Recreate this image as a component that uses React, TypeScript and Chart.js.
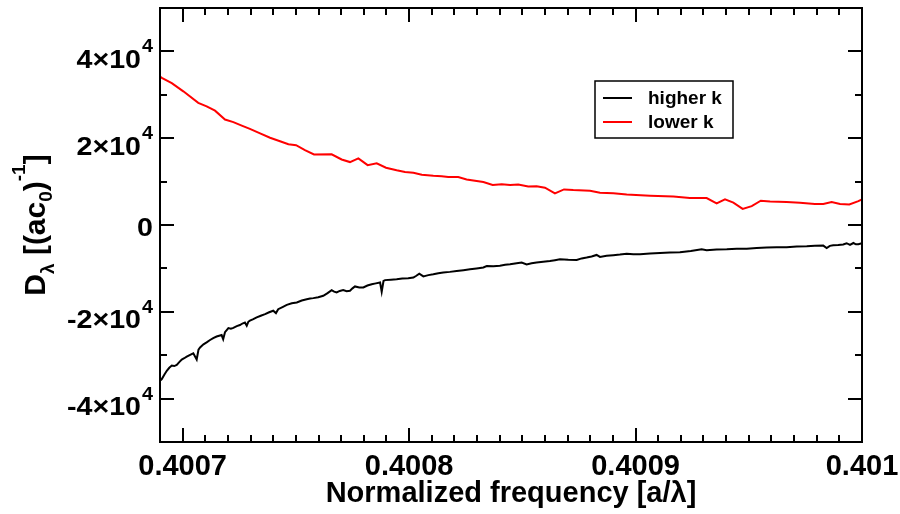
import React, { useEffect, useRef } from "react";
import { Chart, registerables } from "chart.js";

Chart.register(...registerables);

// ---------- data ----------
const seriesLabels = ["higher k", "lower k"];

const higherKFreq = [
  0.40069, 0.4006908, 0.4006919, 0.400693, 0.4006941, 0.4006952, 0.4006963, 0.4006974, 0.4006985, 0.4006996,
  0.4007007, 0.4007018, 0.4007033, 0.4007047, 0.4007062, 0.400707, 0.4007077, 0.4007092, 0.4007106, 0.4007121,
  0.4007135, 0.400715, 0.4007165, 0.4007172, 0.4007179, 0.4007187, 0.4007202, 0.4007213, 0.4007224, 0.4007239,
  0.4007253, 0.4007264, 0.4007275, 0.4007283, 0.400729, 0.4007297, 0.4007312, 0.4007327, 0.4007345, 0.4007364,
  0.4007382, 0.40074, 0.4007412, 0.4007422, 0.4007441, 0.400746, 0.4007482, 0.4007504, 0.4007526, 0.4007548,
  0.4007563, 0.4007577, 0.4007599, 0.4007621, 0.400764, 0.4007658, 0.4007669, 0.400768, 0.4007694, 0.4007709,
  0.4007724, 0.4007739, 0.400775, 0.4007761, 0.400778, 0.4007798, 0.4007816, 0.4007835, 0.4007853, 0.4007872,
  0.4007879, 0.4007887, 0.4007894, 0.400792, 0.4007945, 0.400797, 0.4007996, 0.4008019, 0.4008032, 0.4008045,
  0.4008063, 0.4008085, 0.4008107, 0.4008129, 0.4008151, 0.400818, 0.400821, 0.400824, 0.4008269, 0.4008298,
  0.4008328, 0.4008343, 0.4008372, 0.4008401, 0.4008424, 0.4008446, 0.4008475, 0.4008497, 0.4008519, 0.4008541,
  0.4008563, 0.4008592, 0.4008622, 0.4008644, 0.4008666, 0.4008703, 0.400874, 0.4008762, 0.4008784, 0.4008806,
  0.4008828, 0.4008843, 0.4008872, 0.4008902, 0.4008931, 0.4008961, 0.400899, 0.400902, 0.4009064, 0.4009108,
  0.4009152, 0.4009196, 0.4009244, 0.4009292, 0.4009314, 0.4009358, 0.4009403, 0.4009447, 0.4009491, 0.4009535,
  0.4009579, 0.4009623, 0.4009667, 0.4009712, 0.4009756, 0.4009792, 0.4009829, 0.4009844, 0.4009858, 0.4009873,
  0.4009895, 0.4009917, 0.4009932, 0.4009947, 0.4009962, 0.4009973, 0.4009984, 0.401,
];
const higherKValues = [
  -35900, -35500, -34500, -33600, -32900, -32400, -32500, -32250, -31600, -31000,
  -30700, -30350, -29900, -29550, -31000, -28700, -28200, -27500, -27050, -26500,
  -26050, -25700, -25450, -25350, -26300, -24700, -23750, -23900, -23700, -23300,
  -23050, -22700, -22450, -23200, -22300, -22050, -21700, -21300, -20900, -20550,
  -20100, -19750, -20300, -19400, -18900, -18400, -18050, -17850, -17400, -17100,
  -16950, -16850, -16650, -16300, -15700, -15000, -15350, -15550, -15200, -15000,
  -15250, -15150, -14600, -14150, -14400, -14400, -13950, -13650, -13450, -13250,
  -15400, -12900, -12700, -12600, -12500, -12350, -12250, -12100, -11700, -11200,
  -11850, -11550, -11350, -11100, -10950, -10800, -10600, -10400, -10200, -10000,
  -9800, -9450, -9500, -9400, -9150, -9050, -8800, -8650, -9100, -8800,
  -8650, -8450, -8300, -8100, -7900, -8000, -8050, -7700, -7500, -7250,
  -6900, -7350, -7100, -6950, -6800, -6600, -6750, -6750, -6550, -6450,
  -6350, -6300, -6000, -5600, -5800, -5650, -5600, -5500, -5450, -5300,
  -5200, -5150, -5150, -4950, -4900, -4800, -4750, -5300, -4800, -4650,
  -4600, -4500, -4200, -4600, -4150, -4450, -4450, -4200,
];

const lowerKFreq = [
  0.40069, 0.4006908, 0.4006952, 0.4007003, 0.4007069, 0.4007106, 0.4007143, 0.4007187, 0.4007224, 0.4007261,
  0.4007297, 0.4007342, 0.4007386, 0.400743, 0.4007467, 0.4007501, 0.400754, 0.400758, 0.4007658, 0.4007702,
  0.4007739, 0.4007776, 0.4007817, 0.4007857, 0.4007898, 0.4007945, 0.4007982, 0.4008019, 0.4008056, 0.4008107,
  0.4008144, 0.4008173, 0.4008217, 0.4008254, 0.4008328, 0.4008369, 0.4008409, 0.4008446, 0.4008482, 0.4008526,
  0.4008563, 0.40086, 0.4008644, 0.4008684, 0.4008725, 0.4008799, 0.4008843, 0.4008902, 0.4008961, 0.4009064,
  0.4009167, 0.400924, 0.4009314, 0.4009358, 0.4009395, 0.4009432, 0.4009473, 0.4009513, 0.4009553, 0.4009594,
  0.4009667, 0.4009726, 0.4009792, 0.4009829, 0.4009866, 0.4009903, 0.4009944, 0.4009984, 0.401,
];
const lowerKValues = [
  34200, 33900, 32700, 30800, 28150, 27350, 26350, 24300, 23700, 22900,
  22150, 21100, 20100, 19300, 18600, 18400, 17250, 16250, 16300, 15100,
  14500, 15350, 13800, 14200, 13200, 12600, 12200, 12050, 11600, 11350,
  11250, 11050, 11050, 10500, 9900, 9200, 9400, 9200, 9350, 8850,
  8950, 8600, 7300, 8200, 8050, 7900, 7450, 7300, 7000, 6750,
  6550, 6200, 6200, 5000, 5900, 5150, 3700, 4350, 5600, 5400,
  5300, 5150, 4850, 4850, 5300, 4850, 4750, 5500, 5900,
];

// ---------- axes ----------
const xMin = 0.40069;
const xMax = 0.401;
const xTickValues = [0.4007, 0.4008, 0.4009, 0.401];
const xTickLabels = ["0.4007", "0.4008", "0.4009", "0.401"];
const xMinorStep = 0.00001;
const yMin = -50000;
const yMax = 50000;
const yMajorTicks = [40000, 20000, 0, -20000, -40000];
const yTickMantissa = ["4", "2", "0", "-2", "-4"];
const yTickExponent = ["4", "4", "", "4", "4"];
const yMinorTicks = [30000, 10000, -10000, -30000];
const xTitle = "Normalized frequency [a/λ]";

const FONT = "'Liberation Sans', Arial, Helvetica, sans-serif";

function drawScaled(ctx: CanvasRenderingContext2D, text: string, x: number, y: number, font: string, sx: number) {
  ctx.save();
  ctx.font = font;
  ctx.translate(x, y);
  ctx.scale(sx, 1);
  ctx.fillText(text, 0, 0);
  ctx.restore();
}

const idlPlugin = {
  id: "idlFrame",
  afterDraw(chart: any) {
    const { ctx, chartArea: ca, scales } = chart;
    const xs = scales.x;
    const ys = scales.y;
    ctx.save();
    ctx.strokeStyle = "#000";
    ctx.fillStyle = "#000";
    ctx.lineWidth = 2;
    ctx.strokeRect(ca.left, ca.top, ca.right - ca.left, ca.bottom - ca.top);

    const major = 14;
    const minor = 7;
    ctx.beginPath();
    const nMinor = Math.round((xTickValues[xTickValues.length - 1] - xTickValues[0]) / xMinorStep);
    for (let k = 0; k <= nMinor; k++) {
      const v = xTickValues[0] + k * xMinorStep;
      const p = Math.round(xs.getPixelForValue(v));
      const len = k % 10 === 0 ? major : minor;
      ctx.moveTo(p, ca.bottom);
      ctx.lineTo(p, ca.bottom - len);
      ctx.moveTo(p, ca.top);
      ctx.lineTo(p, ca.top + len);
    }
    const yt = [
      ...yMajorTicks.map((v) => [v, major]),
      ...yMinorTicks.map((v) => [v, minor]),
    ];
    for (const [v, len] of yt) {
      const p = Math.round(ys.getPixelForValue(v));
      ctx.moveTo(ca.left, p);
      ctx.lineTo(ca.left + len, p);
      ctx.moveTo(ca.right, p);
      ctx.lineTo(ca.right - len, p);
    }
    ctx.stroke();

    // y tick labels with superscript exponent
    ctx.textAlign = "left";
    ctx.textBaseline = "alphabetic";
    const mainFont = `bold 26px ${FONT}`;
    const supFont = `bold 18px ${FONT}`;
    const sx = 1.1;
    yMajorTicks.forEach((v, i) => {
      const p = ys.getPixelForValue(v);
      const exp = yTickExponent[i];
      const mainText = exp ? yTickMantissa[i] + "×10" : yTickMantissa[i];
      ctx.font = mainFont;
      const wMain = ctx.measureText(mainText).width * sx;
      ctx.font = supFont;
      const wSup = exp ? ctx.measureText(exp).width * sx + 1 : 0;
      const right = ca.left - 7;
      const x0 = right - wMain - wSup;
      drawScaled(ctx, mainText, x0, p + (exp ? 16.5 : 10.5), mainFont, sx);
      if (exp) drawScaled(ctx, exp, x0 + wMain + 1, p + 1, supFont, sx);
    });

    // y axis title: D_λ [(ac_0)^-1]
    const tMain = `bold 30px ${FONT}`;
    const tSub = `bold 19px ${FONT}`;
    const pieces = [
      { t: "D", f: tMain, dy: 0 },
      { t: "λ", f: tSub, dy: 9 },
      { t: " [(ac", f: tMain, dy: 0 },
      { t: "0", f: tSub, dy: 7 },
      { t: ")", f: tMain, dy: 0 },
      { t: "-1", f: tSub, dy: -20 },
      { t: "]", f: tMain, dy: 0 },
    ];
    let total = 0;
    const widths = pieces.map((pc) => {
      ctx.font = pc.f;
      const w = ctx.measureText(pc.t).width;
      total += w;
      return w;
    });
    ctx.save();
    ctx.translate(45, (ca.top + ca.bottom) / 2);
    ctx.rotate(-Math.PI / 2);
    let cx = -total / 2;
    pieces.forEach((pc, i) => {
      ctx.font = pc.f;
      ctx.fillText(pc.t, cx, pc.dy);
      cx += widths[i];
    });
    ctx.restore();

    // legend box
    const lx = 595, ly = 81, lw = 138, lh = 57;
    ctx.lineWidth = 1.5;
    ctx.strokeRect(lx, ly, lw, lh);
    ctx.textBaseline = "middle";
    ctx.font = `bold 19px ${FONT}`;
    chart.data.datasets.forEach((ds: any, i: number) => {
      const y = ly + 17 + i * 24;
      ctx.beginPath();
      ctx.strokeStyle = ds.borderColor;
      ctx.lineWidth = 2;
      ctx.moveTo(lx + 8, y);
      ctx.lineTo(lx + 37, y);
      ctx.stroke();
      ctx.fillStyle = "#000";
      ctx.fillText(ds.label, lx + 53, y + 1);
    });
    ctx.restore();
  },
};

export default function App() {
  const canvasRef = useRef<HTMLCanvasElement | null>(null);

  useEffect(() => {
    if (!canvasRef.current) return;
    const black = higherKFreq.map((f, i) => ({ x: f, y: higherKValues[i] }));
    const red = lowerKFreq.map((f, i) => ({ x: f, y: lowerKValues[i] }));
    const chart = new Chart(canvasRef.current, {
      type: "line",
      data: {
        datasets: [
          {
            label: seriesLabels[0],
            data: black,
            borderColor: "#000000",
            borderWidth: 2,
            pointRadius: 0,
            tension: 0,
            fill: false,
          },
          {
            label: seriesLabels[1],
            data: red,
            borderColor: "#ff0000",
            borderWidth: 2,
            pointRadius: 0,
            tension: 0,
            fill: false,
          },
        ],
      },
      options: {
        responsive: false,
        animation: false,
        layout: { padding: { left: 0, top: 8, right: 38, bottom: 0 } },
        plugins: {
          legend: { display: false },
          tooltip: { enabled: false },
        },
        scales: {
          x: {
            type: "linear",
            min: xMin,
            max: xMax,
            grid: { display: false },
            border: { display: false },
            afterBuildTicks: (scale: any) => {
              scale.ticks = xTickValues.map((v) => ({ value: v }));
            },
            afterFit: (scale: any) => {
              scale.height = 72;
            },
            ticks: {
              autoSkip: false,
              maxRotation: 0,
              padding: 0,
              color: "#000",
              font: { family: FONT, size: 29, weight: "bold" },
              callback: (_v: any, i: number) => xTickLabels[i],
            },
            title: {
              display: true,
              text: xTitle,
              color: "#000",
              font: { family: FONT, size: 29, weight: "bold" },
              padding: { top: 0, bottom: 3 },
            },
          },
          y: {
            type: "linear",
            min: yMin,
            max: yMax,
            grid: { display: false },
            border: { display: false },
            ticks: { display: false },
            afterFit: (scale: any) => {
              scale.width = 160;
            },
          },
        },
      },
      plugins: [idlPlugin],
    } as any);
    return () => chart.destroy();
  }, []);

  return (
    <div style={{ position: "absolute", left: 0, top: 0, width: 900, height: 514, background: "#fff" }}>
      <canvas ref={canvasRef} width={900} height={514} style={{ display: "block" }} />
    </div>
  );
}
